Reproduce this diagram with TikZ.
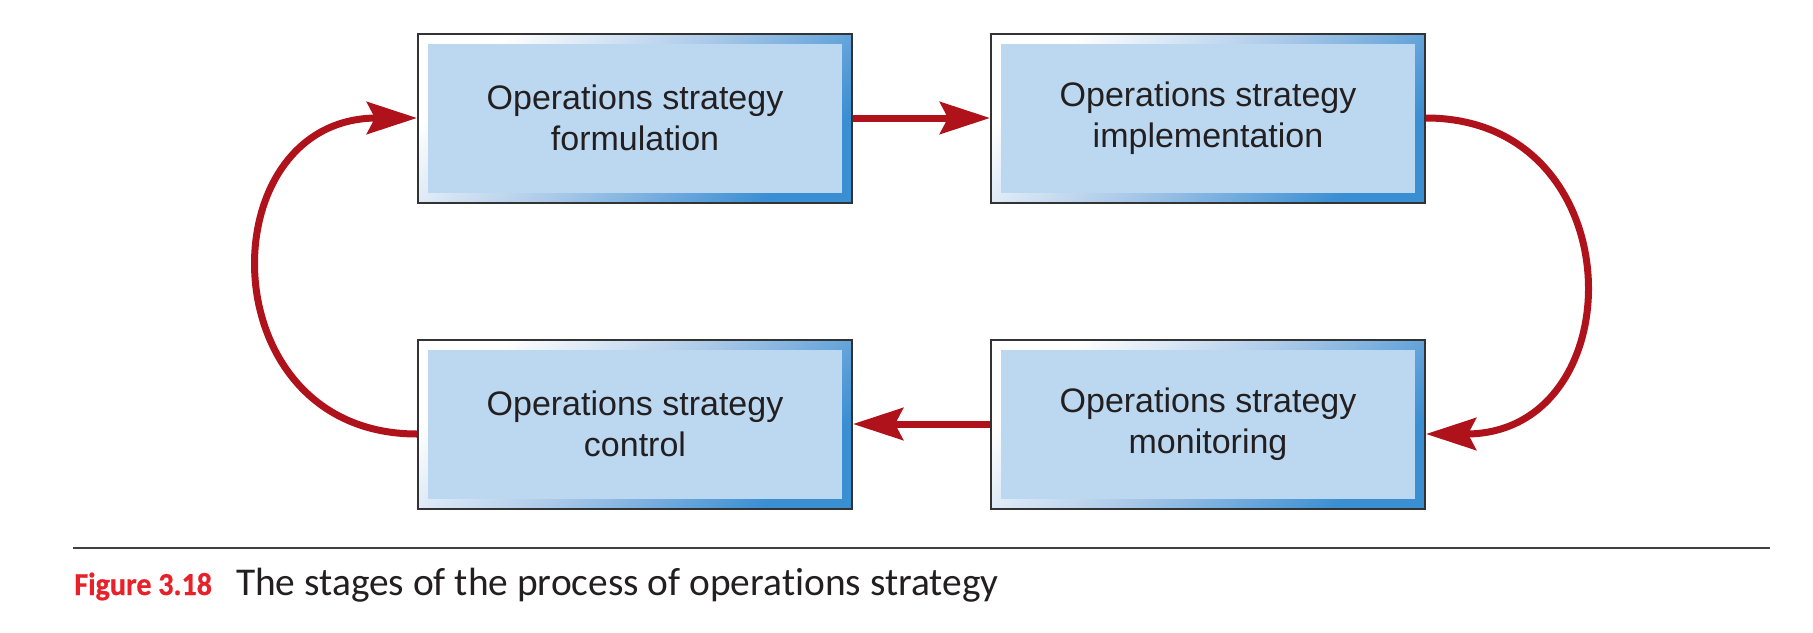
\documentclass[tikz,border=0pt]{standalone}
\usepackage{fontspec}
\setmainfont{Liberation Sans}
\newfontfamily\captionfont{Carlito}[Ligatures=NoCommon]
\newfontfamily\figlabelfont{Carlito Bold}[FakeStretch=0.94,FakeBold=0.6]
\usepackage{tikz}
\usetikzlibrary{arrows.meta,positioning}
\usepackage{xcolor}
\definecolor{arrowred}{HTML}{B0121B}
\definecolor{figred}{HTML}{E8202A}
\definecolor{boxfill}{HTML}{BBD8F0}
\definecolor{frameblue}{HTML}{3A8ED2}
\definecolor{framemid}{HTML}{A9C8E8}
\definecolor{textgrey}{HTML}{231F20}
\definecolor{boxline}{HTML}{333333}

\begin{document}
\begin{tikzpicture}[
  x=0.5pt, y=-0.5pt,
  node distance=67.5pt and 68.5pt,
  flow/.style={draw=arrowred, line width=3.5pt, -{Stealth[length=25pt,width=16pt,inset=4pt]}},
  rule/.style={draw=black!75, line width=1pt}
  ]
  \tikzset{stage/.style={draw=boxline, line width=1pt, minimum width=217pt, minimum height=84.5pt,
    inner sep=0pt, align=center, text=textgrey, font=\fontsize{17}{20.5}\selectfont,
    top color=white, bottom color=frameblue, middle color=framemid, shading angle=45,
    path picture={\fill[boxfill] ([xshift=5pt,yshift=-5pt]path picture bounding box.north west)
      rectangle ([xshift=-5pt,yshift=5pt]path picture bounding box.south east);}}}
  \useasboundingbox (0,0) rectangle (1813,632);

  \node[stage] (formulation) at (635,118) {Operations strategy\\formulation};
  \node[stage, right=of formulation] (implementation) {Operations strategy\\implementation};
  \node[stage, below=of formulation] (control) {Operations strategy\\control};
  \node[stage, below=of implementation] (monitoring) {Operations strategy\\monitoring};

  \draw[flow] (formulation) -- (implementation);
  \draw[flow] (implementation.east) to[out=0, in=0, looseness=1.7] ([yshift=-5pt]monitoring.east);
  \draw[flow] (monitoring) -- (control);
  \draw[flow] ([yshift=-5pt]control.west) to[out=180, in=180, looseness=1.7] (formulation.west);

  \coordinate (rule west) at (73,548);
  \coordinate (rule east) at (1770,548);
  \draw[rule] (rule west) -- (rule east);
  \node[anchor=base west, inner sep=0pt, text=textgrey, font=\captionfont\fontsize{19.7}{22}\selectfont] (caption) at (74,595)
    {{\color{figred}\figlabelfont\fontsize{16}{20}\selectfont Figure 3.18}\hspace{12pt}The stages of the process of operations strategy};
\end{tikzpicture}
\end{document}
